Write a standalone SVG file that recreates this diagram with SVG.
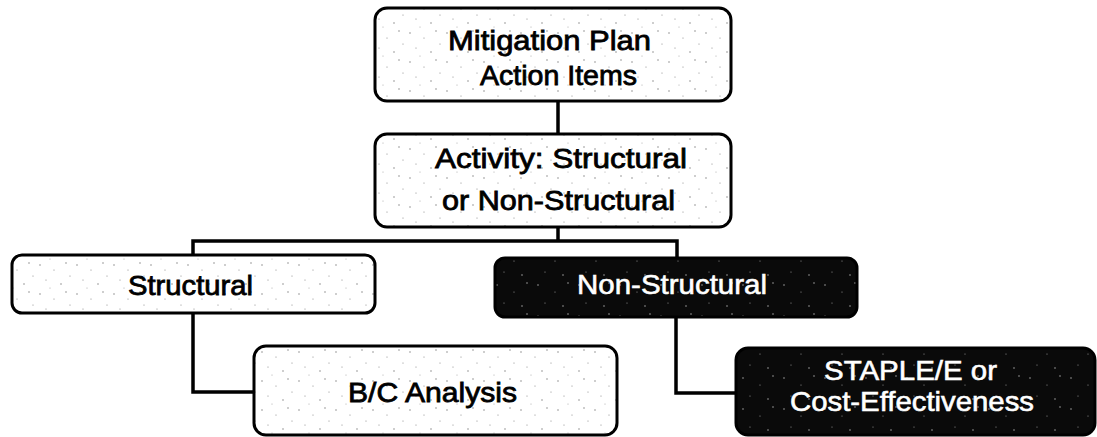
<svg xmlns="http://www.w3.org/2000/svg" width="1097" height="437" viewBox="0 0 1097 437">
  <defs>
    <pattern id="speck" width="37" height="29" patternUnits="userSpaceOnUse">
      <rect width="37" height="29" fill="#ffffff"/>
      <circle cx="3" cy="4" r="0.7" fill="#777"/>
      <circle cx="17" cy="9" r="0.6" fill="#888"/>
      <circle cx="29" cy="2" r="0.7" fill="#777"/>
      <circle cx="9" cy="19" r="0.6" fill="#888"/>
      <circle cx="24" cy="23" r="0.7" fill="#777"/>
      <circle cx="33" cy="15" r="0.6" fill="#888"/>
      <circle cx="13" cy="27" r="0.5" fill="#999"/>
    </pattern>
    <pattern id="speckDark" width="41" height="31" patternUnits="userSpaceOnUse">
      <rect width="41" height="31" fill="#0a0a0a"/>
      <circle cx="5" cy="6" r="0.7" fill="#bbb"/>
      <circle cx="22" cy="13" r="0.6" fill="#999"/>
      <circle cx="35" cy="4" r="0.7" fill="#bbb"/>
      <circle cx="12" cy="24" r="0.6" fill="#999"/>
      <circle cx="30" cy="27" r="0.7" fill="#bbb"/>
    </pattern>
  </defs>
  <style>
    .box { fill: url(#speck); stroke: #000; stroke-width: 3; }
    .dark { fill: url(#speckDark); stroke: #000; stroke-width: 3; }
    .lbl { font-family: "Liberation Sans", Arial, sans-serif; font-size: 28px; fill: #000; stroke: #000; stroke-width: 0.8; }
    .lblw { font-family: "Liberation Sans", Arial, sans-serif; font-size: 28px; fill: #fff; stroke: #fff; stroke-width: 0.6; }
    .conn { fill: none; stroke: #000; stroke-width: 3.5; }
  </style>
  <rect width="1097" height="437" fill="#fff"/>

  <g id="connectors">
    <line class="conn" x1="558" y1="101" x2="558" y2="134"/>
    <polyline class="conn" points="558,227 558,241"/>
    <polyline class="conn" points="193,255 193,241 677,241 677,258"/>
    <polyline class="conn" points="193,313 193,392 254,392"/>
    <polyline class="conn" points="676,317 676,393 736,393"/>
  </g>

  <g id="node-mitigation">
    <rect class="box" x="375" y="8" width="356" height="93" rx="12"/>
    <text class="lbl" x="448" y="50" textLength="203" lengthAdjust="spacingAndGlyphs">Mitigation Plan</text>
    <text class="lbl" x="480" y="85" textLength="157" lengthAdjust="spacingAndGlyphs">Action Items</text>
  </g>

  <g id="node-activity">
    <rect class="box" x="375" y="134" width="356" height="93" rx="12"/>
    <text class="lbl" x="435" y="168" textLength="252" lengthAdjust="spacingAndGlyphs">Activity: Structural</text>
    <text class="lbl" x="442" y="210" textLength="233" lengthAdjust="spacingAndGlyphs">or Non-Structural</text>
  </g>

  <g id="node-structural">
    <rect class="box" x="12" y="255" width="363" height="58" rx="10"/>
    <text class="lbl" x="128" y="295" textLength="125" lengthAdjust="spacingAndGlyphs">Structural</text>
  </g>

  <g id="node-nonstructural">
    <rect class="dark" x="495" y="258" width="362" height="59" rx="10"/>
    <text class="lblw" x="577" y="294" textLength="190" lengthAdjust="spacingAndGlyphs">Non-Structural</text>
  </g>

  <g id="node-bc">
    <rect class="box" x="254" y="346" width="363" height="89" rx="12"/>
    <text class="lbl" x="348" y="402" textLength="169" lengthAdjust="spacingAndGlyphs">B/C Analysis</text>
  </g>

  <g id="node-staple">
    <rect class="dark" x="736" y="348" width="359" height="87" rx="12"/>
    <text class="lblw" x="824" y="380" textLength="173" lengthAdjust="spacingAndGlyphs">STAPLE/E or</text>
    <text class="lblw" x="790" y="411" textLength="244" lengthAdjust="spacingAndGlyphs">Cost-Effectiveness</text>
  </g>
</svg>
